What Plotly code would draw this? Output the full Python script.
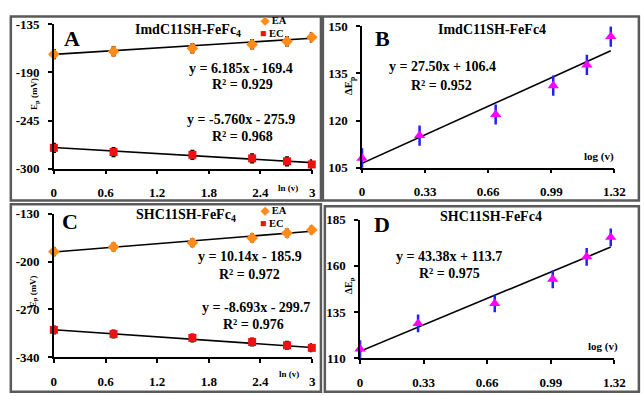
import plotly.graph_objects as go

W, H = 644, 396

# ---------------- data ----------------
ln_v = [0, 0.693, 1.609, 2.303, 2.708, 2.996]
log_v = [0, 0.301, 0.699, 1.0, 1.176, 1.301]

A_EA = [-169.1, -166.0, -162.5, -158.0, -154.5, -149.8]
A_EC = [-276.2, -281.0, -284.2, -288.3, -291.6, -295.2]
A_err = [5, 5, 5, 5, 5, 5]

C_EA = [-185.4, -178.4, -172.3, -165.3, -158.2, -153.5]
C_EC = [-300.0, -306.1, -311.7, -317.8, -322.6, -326.3]
C_err = [5.5, 5.5, 5.5, 5.5, 5.5, 5.5]

B_dEp = [108.0, 115.2, 121.9, 131.1, 137.7, 146.7]
B_err = [3.2, 3.2, 3.2, 3.2, 3.2, 3.2]
D_dEp = [114.9, 128.8, 139.6, 152.7, 164.9, 175.4]
D_err = [4.8, 4.8, 4.8, 4.8, 4.8, 4.8]

# trendline coefficients (slope, intercept)
A_EA_fit = (6.185, -169.4)
A_EC_fit = (-5.760, -275.9)
C_EA_fit = (10.14, -185.9)
C_EC_fit = (-8.693, -299.7)
B_fit = (27.50, 106.4)
D_fit = (43.38, 113.7)

eq_A = ["y = 6.185x - 169.4", "R² = 0.929", "y = -5.760x - 275.9", "R² = 0.968"]
eq_C = ["y = 10.14x - 185.9", "R² = 0.972", "y = -8.693x - 299.7", "R² = 0.976"]
eq_B = ["y = 27.50x + 106.4", "R² = 0.952"]
eq_D = ["y = 43.38x + 113.7", "R² = 0.975"]

ticks_ln = [0, 0.6, 1.2, 1.8, 2.4, 3]
ticks_log = [0, 0.33, 0.66, 0.99, 1.32]
ticks_A = [-300, -245, -190, -135]
ticks_B = [105, 120, 135, 150]
ticks_C = [-340, -270, -200, -130]
ticks_D = [110, 135, 160, 185]

# ---------------- styling ----------------
FONT = "Liberation Serif"
ORANGE = "#FF8C1A"
RED = "#EE1111"
MAGENTA = "#FF00FF"
BLUE = "#2222FF"


def px(x):
    return x / W


def py(y):
    return 1 - y / H


fig = go.Figure()


def fit_line(fit, x0, x1, xa, ya):
    m, b = fit
    fig.add_trace(go.Scatter(x=[x0, x1], y=[m * x0 + b, m * x1 + b], mode="lines",
                             line=dict(color="black", width=1.6),
                             xaxis=xa, yaxis=ya, showlegend=False, hoverinfo="skip"))


def pts(x, y, err, symbol, color, size, ecolor, ewidth, ethick, xa, ya):
    fig.add_trace(go.Scatter(x=x, y=y, mode="markers",
                             marker=dict(symbol=symbol, color=color, size=size),
                             error_y=dict(type="data", array=err, color=ecolor,
                                          width=ewidth, thickness=ethick),
                             cliponaxis=False, xaxis=xa, yaxis=ya,
                             showlegend=False))


# Panel A
fit_line(A_EA_fit, 0, ln_v[-1], "x", "y")
fit_line(A_EC_fit, 0, ln_v[-1], "x", "y")
pts(ln_v, A_EA, A_err, "diamond", ORANGE, 9, "black", 2, 1.5, "x", "y")
pts(ln_v, A_EC, A_err, "square", RED, 8, "black", 2, 1.5, "x", "y")

# Panel B
fit_line(B_fit, 0, log_v[-1], "x2", "y2")
pts(log_v, B_dEp, B_err, "triangle-up", MAGENTA, 10, BLUE, 0, 2.5, "x2", "y2")

# Panel C
fit_line(C_EA_fit, 0, ln_v[-1], "x3", "y3")
fit_line(C_EC_fit, 0, ln_v[-1], "x3", "y3")
pts(ln_v, C_EA, C_err, "diamond", ORANGE, 9, "black", 2, 1.5, "x3", "y3")
pts(ln_v, C_EC, C_err, "square", RED, 8, "black", 2, 1.5, "x3", "y3")

# Panel D
fit_line(D_fit, 0, log_v[-1], "x4", "y4")
pts(log_v, D_dEp, D_err, "triangle-up", MAGENTA, 10, BLUE, 0, 2.5, "x4", "y4")

tickfont = dict(family=FONT, size=13, color="black", weight="bold")


def xaxis(dom, rng, tv, anchor):
    return dict(domain=dom, range=rng, tickvals=tv, ticktext=[f"{t:g}" for t in tv],
                showline=True, linecolor="black", linewidth=1.5, ticks="outside",
                ticklen=4, tickcolor="black", tickwidth=1.5, showgrid=False,
                zeroline=False, tickfont=tickfont, anchor=anchor, ticklabelstandoff=7)


def yaxis(dom, rng, tv, anchor):
    return dict(domain=dom, range=rng, tickvals=tv, ticktext=[f"{t:g}" for t in tv],
                showline=True, linecolor="black", linewidth=1.5, ticks="outside",
                ticklen=4, tickcolor="black", tickwidth=1.5, showgrid=False,
                zeroline=False, tickfont=tickfont, anchor=anchor, ticklabelstandoff=6)


fig.update_layout(
    width=W, height=H, margin=dict(l=0, r=0, t=0, b=0),
    paper_bgcolor="white", plot_bgcolor="white", showlegend=False,
    xaxis=xaxis([px(52), px(316)], [0, 3], ticks_ln, "y"),
    yaxis=yaxis([py(168), py(18)], [-300, -135], ticks_A, "x"),
    xaxis2=xaxis([px(367), px(625)], [0, 1.32], ticks_log, "y2"),
    yaxis2=yaxis([py(167), py(20)], [105, 150], ticks_B, "x2"),
    xaxis3=xaxis([px(52), px(316)], [0, 3], ticks_ln, "y3"),
    yaxis3=yaxis([py(364), py(215)], [-340, -130], ticks_C, "x3"),
    xaxis4=xaxis([px(365), px(625)], [0, 1.32], ticks_log, "y4"),
    yaxis4=yaxis([py(365), py(221)], [110, 185], ticks_D, "x4"),
)

# panel frames
FRAME = "#5a5a5a"
for x0, y0, x1, y1 in [(8, 10, 325, 201), (327, 10, 650, 201),
                       (8, 205, 325, 400), (329, 207, 650, 400)]:
    fig.add_shape(type="rect", xref="paper", yref="paper",
                  x0=px(x0), x1=px(x1), y0=py(y1), y1=py(y0),
                  line=dict(color=FRAME, width=2.5), fillcolor="rgba(0,0,0,0)")


def note(text, x, y, size, xanchor="center", angle=0, color="black"):
    fig.add_annotation(text=text, x=px(x), y=py(y), xref="paper", yref="paper",
                       showarrow=False, xanchor=xanchor, yanchor="middle",
                       textangle=angle,
                       font=dict(family=FONT, size=size, color=color, weight="bold"))


# panel letters
note("A", 71, 33, 22)
note("B", 388, 33, 22)
note("C", 68, 223, 22)
note("D", 387, 226, 22)

# titles
note("ImdC11SH-FeFc<sub>4</sub>", 189, 24, 14)
note("ImdC11SH-FeFc4", 500, 23, 14)
note("SHC11SH-FeFc<sub>4</sub>", 187, 217, 14)
note("SHC11SH-FeFc4", 499, 218, 14)

# legends (A and C)
for y0 in (14, 211):
    note(f"<span style='color:{ORANGE}'>◆</span> EA", 261, y0, 10.5, xanchor="left")
    note(f"<span style='color:{RED}'>■</span> EC", 261, y0 + 14, 10.5, xanchor="left")

# equations
for t, (x, y) in zip(eq_A, [(243, 64), (245, 81), (243, 117), (245, 135)]):
    note(t, x, y, 14)
for t, (x, y) in zip(eq_C, [(252, 259), (252, 278), (259, 312), (256, 330)]):
    note(t, x, y, 14)
for t, (x, y) in zip(eq_B, [(449, 62), (448, 82)]):
    note(t, x, y, 14)
for t, (x, y) in zip(eq_D, [(456, 259), (456, 277)]):
    note(t, x, y, 14)

# axis labels
note("E<sub>p</sub> (mV)", 32, 90, 9, angle=-90)
note("E<sub>p</sub> (mV)", 31, 295, 9, angle=-90)
note("ΔE<sub>p</sub>", 354, 82, 11, angle=-90)
note("ΔE<sub>p</sub>", 354, 290, 10, angle=-90)
note("ln (v)", 291, 188, 9)
note("ln (v)", 292, 381, 9)
note("log (v)", 609, 155, 11)
note("log (v)", 613, 353, 11)

fig.write_html("out.html")
